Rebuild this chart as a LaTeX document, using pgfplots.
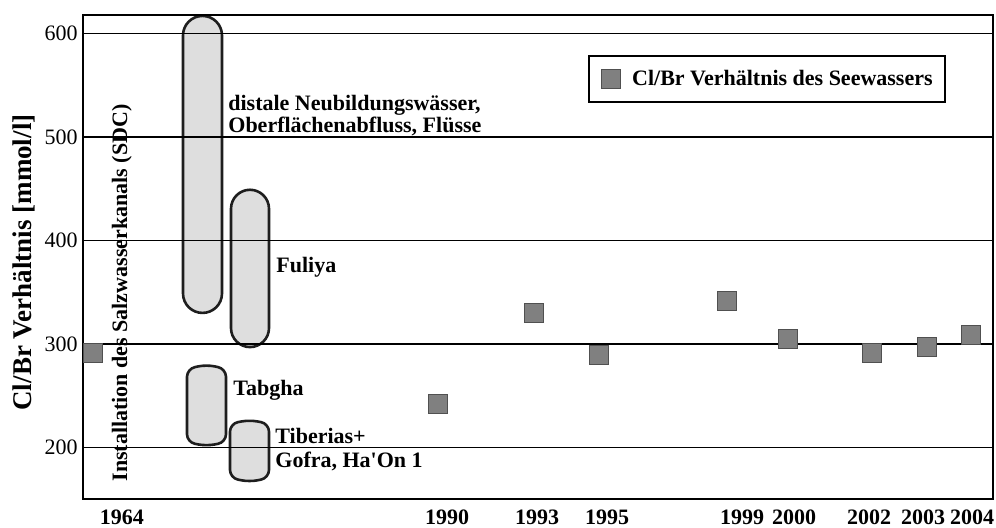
\documentclass[border=0pt]{standalone}
\usepackage{fontspec}
\setmainfont{Liberation Serif}
\usepackage{pgfplots}
\pgfplotsset{compat=1.18}
\definecolor{sqgray}{HTML}{808080}
\definecolor{sqedge}{HTML}{505050}
\definecolor{capfill}{HTML}{DEDEDE}
\definecolor{capedge}{HTML}{1E1E1E}
\newcommand{\lab}{\bfseries\fontsize{11}{13}\selectfont}
\begin{document}
\begin{tikzpicture}
\useasboundingbox (-41.5pt,-14.5pt) rectangle (456.5pt,249.5pt);
\begin{axis}[
  scale only axis, width=455pt, height=242pt,
  xmin=83, xmax=993, ymin=150.2, ymax=617.9,
  axis on top, clip=false,
  axis line style={line width=1pt, black},
  ytick={200,300,400,500,600},
  ymajorgrids, grid style={line width=0.6pt, black},
  xtick={122,447,537,607,742,794,869,923,972},
  xticklabels={1964,1990,1993,1995,1999,2000,2002,2003,2004},
  major tick length=0pt,
  /pgf/number format/assume math mode=true,
  yticklabel style={font=\fontsize{11}{13}\selectfont, inner sep=0pt, xshift=-2.5pt},
  xticklabel style={font=\lab, inner sep=0pt, text height=8pt, text depth=0pt, anchor=north, yshift=-4.5pt},
  ylabel={Cl/Br Verhältnis [mmol/l]},
  ylabel style={font=\bfseries\fontsize{13.5}{16}\selectfont, at={(axis description cs:-0.0648,0.4886)}, anchor=center},
  legend style={at={(axis cs:767,556)}, anchor=center, draw=black, line width=1pt, fill=white,
    font=\lab, inner xsep=6pt, inner ysep=6.5pt,
    nodes={inner sep=0pt},
    /tikz/every odd column/.append style={column sep=5.5pt}},
]
\addplot[only marks, mark=square*, mark size=4.75pt,
  mark options={fill=sqgray, draw=sqedge, line width=0.4pt},
  legend image code/.code={\draw[fill=sqgray, draw=sqedge, line width=0.4pt] (0pt,-4.75pt) rectangle (9.5pt,4.75pt);}]
  coordinates {(92.5,291) (437.5,242) (534,330) (599,289) (727,341.5) (788,304.5) (872,291) (926.5,297) (971,309)};
\addlegendentry{Cl/Br Verhältnis des Seewassers}

% distale Neubildungswaesser
\addplot[forget plot, draw=capedge, fill=capfill, line width=1.3pt, rounded corners=9.75pt]
  coordinates {(183,470) (183,617) (222,617) (222,330) (183,330)} -- cycle;
% Fuliya
\addplot[forget plot, draw=capedge, fill=capfill, line width=1.3pt, rounded corners=9.5pt]
  coordinates {(231,370) (231,449) (269,449) (269,297) (231,297)} -- cycle;
% Tabgha
\addplot[forget plot, draw=capedge, fill=capfill, line width=1.3pt, rounded corners=4pt]
  coordinates {(187,240) (187,276) (206.5,280) (226,276) (226,205) (206.5,201.4) (187,205)} -- cycle;
% Tiberias
\addplot[forget plot, draw=capedge, fill=capfill, line width=1.3pt, rounded corners=4pt]
  coordinates {(230,196) (230,223) (249.5,226.6) (269,223) (269,170.5) (249.5,166.7) (230,170.5)} -- cycle;

\node[anchor=base west, inner sep=0pt, font=\lab] at (axis cs:228,526) {distale Neubildungswässer,};
\node[anchor=base west, inner sep=0pt, font=\lab] at (axis cs:228,503.9) {Oberflächenabfluss, Flüsse};
\node[anchor=base west, inner sep=0pt, font=\lab] at (axis cs:276,368.6) {Fuliya};
\node[anchor=base west, inner sep=0pt, font=\lab] at (axis cs:233,249.8) {Tabgha};
\node[anchor=base west, inner sep=0pt, font=\lab] at (axis cs:275,204.3) {Tiberias+};
\node[anchor=base west, inner sep=0pt, font=\lab] at (axis cs:275,180.2) {Gofra, Ha\textquotesingle On 1};
\node[rotate=90, anchor=base west, inner sep=0pt, font=\lab] at (axis cs:127,166.7) {Installation des Salzwasserkanals (SDC)};
\end{axis}
\end{tikzpicture}
\end{document}
